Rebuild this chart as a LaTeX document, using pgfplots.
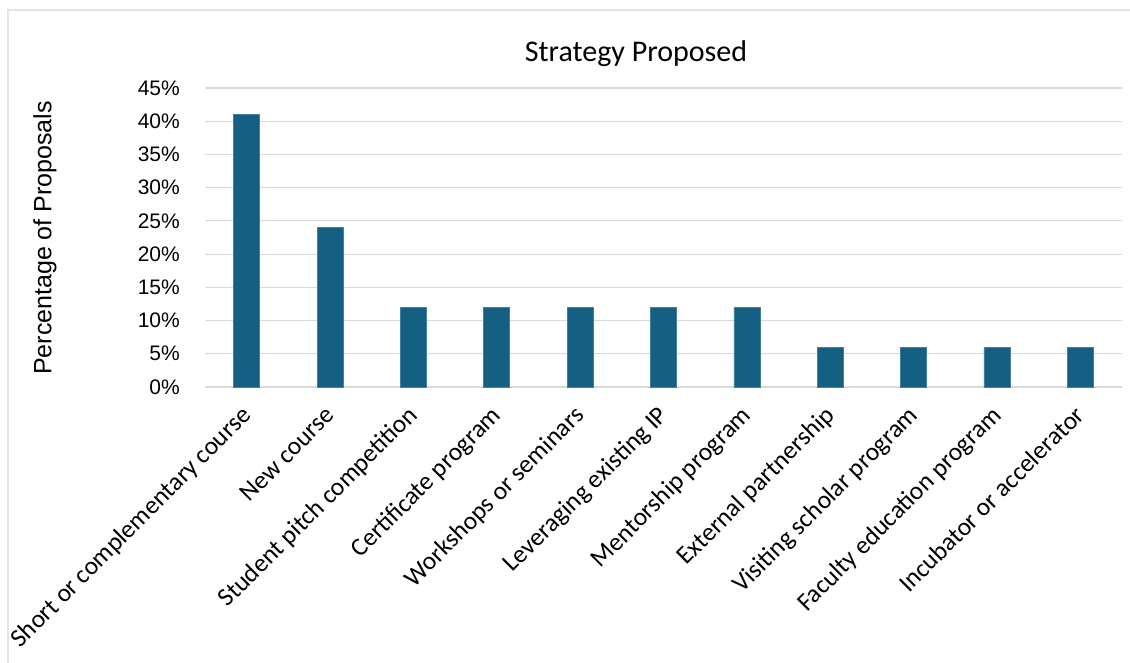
\documentclass[border=0pt]{standalone}
\usepackage{fontspec}
\setmainfont{Liberation Sans}
\newfontfamily\aptos{Carlito}
\usepackage{pgfplots}
\pgfplotsset{compat=1.18}
\definecolor{barblue}{HTML}{156082}
\definecolor{gridgray}{HTML}{D9D9D9}
\definecolor{framegray}{HTML}{E3E3E3}
\begin{document}
\begin{tikzpicture}
\useasboundingbox (0pt,0pt) rectangle (1130pt,662pt);
\fill[white] (0pt,0pt) rectangle (1130pt,662pt);
\draw[framegray, line width=1.5pt] (8pt,-2pt) -- (8pt,652pt) -- (1132pt,652pt);
\begin{axis}[
  at={(205pt,275pt)}, anchor=south west,
  scale only axis, width=917pt, height=299pt,
  xmin=-0.5, xmax=10.5, ymin=0, ymax=45,
  ybar, bar width=26pt,
  axis line style={draw=none},
  major tick length=0pt,
  ymajorgrids, grid style={gridgray, line width=1.2pt},
  ytick={0,5,...,45},
  yticklabel={\pgfmathprintnumber{\tick}\%},
  yticklabel style={font=\fontsize{21}{21}\selectfont, anchor=east, inner sep=0pt, xshift=-25pt},
  /pgf/number format/assume math mode=true,
  xtick={0,...,10},
  xticklabels={Short or complementary course, New course, Student pitch competition, Certificate program, Workshops or seminars, Leveraging existing IP, Mentorship program, External partnership, Visiting scholar program, Faculty education program, Incubator or accelerator},
  xticklabel style={font=\aptos\fontsize{25.5}{25.5}\selectfont, rotate=45, anchor=base east, inner sep=0pt, xshift=-17pt, yshift=-25pt},
  clip=false,
]
\addplot[fill=barblue, draw=barblue!80!white, line width=0.6pt] coordinates {
  (0,41) (1,24) (2,12) (3,12) (4,12) (5,12) (6,12) (7,6) (8,6) (9,6) (10,6)
};
\end{axis}
\node[font=\aptos\fontsize{30}{30}\selectfont, anchor=base] at (636pt,600pt) {Strategy Proposed};
\node[font=\fontsize{25}{25}\selectfont, rotate=90, anchor=center] at (45pt,424pt) {Percentage of Proposals};
\end{tikzpicture}
\end{document}
